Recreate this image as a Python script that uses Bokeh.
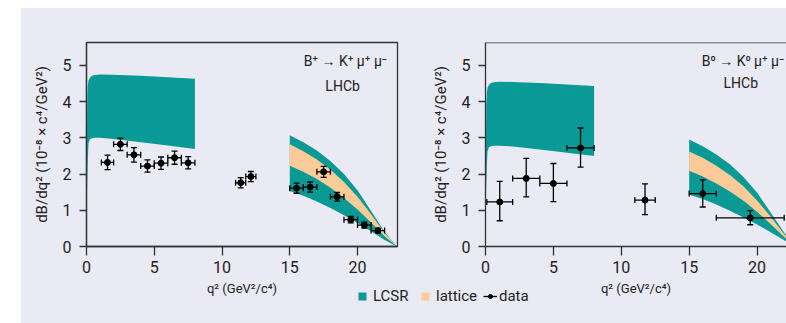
from bokeh.plotting import figure
from bokeh.models import (Range1d, FixedTicker, ColumnDataSource, Whisker, TeeHead,
                          Legend, LegendItem, Label, Span)
from bokeh.layouts import row, column
from bokeh.embed import file_html
from bokeh.resources import INLINE

FONT = "Roboto"
TEAL = "#0a9a95"
ORANGE = "#fccb98"
BG = "#eaeaf5"
AX = "#333333"
TXT = "#222222"

# ---------------- data ----------------
# theory band, low q^2 (LCSR)
low_q = [0.03, 0.06, 0.1, 0.15, 0.25, 0.4, 0.6, 1.0, 2.0, 4.0, 6.0, 8.0]
bp_low_up = [3.0, 4.1, 4.45, 4.58, 4.66, 4.71, 4.73, 4.75, 4.74, 4.71, 4.67, 4.63]
bp_low_lo = [1.3, 1.9, 2.45, 2.85, 2.96, 2.99, 3.0, 3.0, 2.97, 2.88, 2.79, 2.69]
b0_low_up = [2.6, 3.9, 4.25, 4.38, 4.46, 4.51, 4.53, 4.55, 4.54, 4.51, 4.47, 4.43]
b0_low_lo = [1.2, 1.75, 2.25, 2.62, 2.74, 2.77, 2.78, 2.78, 2.76, 2.68, 2.59, 2.50]

# theory bands, high q^2 (LCSR outer, lattice inner)
high_q = [15.0, 16.0, 17.0, 18.0, 19.0, 20.0, 21.0, 22.0, 22.9]
bp_lcsr_up = [3.07, 2.88, 2.65, 2.36, 2.00, 1.55, 0.98, 0.40, 0.0]
bp_lcsr_lo = [1.53, 1.40, 1.24, 1.06, 0.86, 0.65, 0.42, 0.18, 0.0]
bp_lat_up = [2.82, 2.63, 2.40, 2.12, 1.78, 1.37, 0.89, 0.37, 0.0]
bp_lat_lo = [2.23, 2.06, 1.86, 1.62, 1.34, 1.02, 0.66, 0.28, 0.0]
b0_lcsr_up = [2.95, 2.77, 2.54, 2.27, 1.92, 1.49, 0.94, 0.38, 0.0]
b0_lcsr_lo = [1.43, 1.31, 1.16, 0.99, 0.80, 0.61, 0.39, 0.17, 0.0]
b0_lat_up = [2.62, 2.45, 2.23, 1.97, 1.66, 1.27, 0.83, 0.34, 0.0]
b0_lat_lo = [2.09, 1.93, 1.74, 1.52, 1.26, 0.96, 0.62, 0.26, 0.0]

# B+ -> K+ mu+ mu- data
bp_q = [1.55, 2.5, 3.5, 4.5, 5.5, 6.5, 7.5, 11.38, 12.13, 15.5, 16.5, 17.5, 18.5, 19.5, 20.5, 21.5]
bp_qlo = [1.1, 2.0, 3.0, 4.0, 5.0, 6.0, 7.0, 11.0, 11.75, 15.0, 16.0, 17.0, 18.0, 19.0, 20.0, 21.0]
bp_qhi = [2.0, 3.0, 4.0, 5.0, 6.0, 7.0, 8.0, 11.75, 12.5, 16.0, 17.0, 18.0, 19.0, 20.0, 21.0, 22.0]
bp_val = [2.32, 2.82, 2.53, 2.22, 2.30, 2.45, 2.31, 1.76, 1.93, 1.61, 1.64, 2.06, 1.37, 0.74, 0.59, 0.44]
bp_err = [0.20, 0.17, 0.20, 0.17, 0.17, 0.18, 0.17, 0.14, 0.14, 0.14, 0.14, 0.15, 0.12, 0.09, 0.08, 0.06]

# B0 -> K0 mu+ mu- data
b0_q = [1.05, 3.0, 5.0, 7.0, 11.75, 16.0, 19.5]
b0_qlo = [0.1, 2.0, 4.0, 6.0, 11.0, 15.0, 17.0]
b0_qhi = [2.0, 4.0, 6.0, 8.0, 12.5, 17.0, 22.0]
b0_val = [1.23, 1.88, 1.74, 2.72, 1.28, 1.46, 0.79]
b0_up = [1.80, 2.43, 2.29, 3.27, 1.73, 1.84, 0.99]
b0_lo = [0.71, 1.37, 1.24, 2.19, 0.88, 1.09, 0.60]

x_ticks = [0, 5, 10, 15, 20]
y_ticks = [0, 1, 2, 3, 4, 5]
x_label = "q² (GeV²/c⁴)"
y_label = "dB/dq² (10⁻⁸ × c⁴/GeV²)"
bp_title = "B⁺ → K⁺ μ⁺ μ⁻"
b0_title = "B⁰ → K⁰ μ⁺ μ⁻"
legend_labels = ["LCSR", "lattice", "data"]

H = 315


def panel(width, bl, br, xmax, low_up, low_lo, lc_up, lc_lo, la_up, la_lo,
          q, qlo, qhi, val, lo, hi, title, tx, ty, talign, lx, ly, outline):
    p = figure(width=width, height=H, output_backend="svg", toolbar_location=None,
               x_range=Range1d(0, xmax), y_range=Range1d(0, 5.63),
               min_border_left=bl, min_border_right=br, min_border_top=34,
               min_border_bottom=H - 34 - 204)
    p.background_fill_color = BG
    p.border_fill_color = BG
    p.grid.visible = False
    if outline:
        p.outline_line_color = AX
        p.outline_line_width = 1.3
    else:
        p.outline_line_color = None
        p.add_layout(Span(location=5.63, dimension="width", line_color=AX, line_width=1.3))

    for ax, ticks, tout in ((p.xaxis[0], x_ticks, 9), (p.yaxis[0], y_ticks, 7)):
        ax.ticker = FixedTicker(ticks=ticks)
        ax.minor_tick_line_color = None
        ax.major_tick_in = 0
        ax.major_tick_out = tout
        ax.axis_line_color = AX
        ax.axis_line_width = 1.3
        ax.major_tick_line_color = AX
        ax.major_tick_line_width = 1.3
        ax.major_label_text_font = FONT
        ax.major_label_text_font_size = "16px"
        ax.major_label_text_color = TXT
        ax.axis_label_text_font = FONT
        ax.axis_label_text_font_style = "normal"
        ax.axis_label_text_color = TXT
    p.xaxis.axis_label = x_label
    p.yaxis.axis_label = y_label
    p.xaxis.axis_label_text_font_size = "13px"
    p.yaxis.axis_label_text_font_size = "15px"
    p.xaxis.major_label_standoff = 5
    p.yaxis.major_label_standoff = 8
    p.xaxis.axis_label_standoff = 5
    p.yaxis.axis_label_standoff = 9

    p.varea(x=low_q, y1=low_lo, y2=low_up, fill_color=TEAL)
    p.varea(x=high_q, y1=lc_lo, y2=lc_up, fill_color=TEAL)
    p.varea(x=high_q, y1=la_lo, y2=la_up, fill_color=ORANGE)

    src = ColumnDataSource(dict(q=q, qlo=qlo, qhi=qhi, val=val, lo=lo, hi=hi))
    for dim, base, l, u in (("height", "q", "lo", "hi"), ("width", "val", "qlo", "qhi")):
        p.add_layout(Whisker(source=src, base=base, lower=l, upper=u, dimension=dim,
                             line_color="black", line_width=1.3, level="overlay",
                             upper_head=TeeHead(size=6, line_color="black", line_width=1.3),
                             lower_head=TeeHead(size=6, line_color="black", line_width=1.3)))
    p.scatter(x="q", y="val", source=src, size=6, color="black")

    p.add_layout(Label(x=tx, y=ty, text=title, text_align=talign, text_baseline="middle",
                       text_font=FONT, text_font_size="14px", text_color=TXT))
    p.add_layout(Label(x=lx, y=ly, text="LHCb", text_align="center", text_baseline="middle",
                       text_font=FONT, text_font_size="14px", text_color=TXT))
    return p


# left canvas 21..411 (frame 86..397), right canvas 411..786 (frame 485..786)
p1 = panel(390, 65, 14, 22.95, bp_low_up, bp_low_lo, bp_lcsr_up, bp_lcsr_lo,
           bp_lat_up, bp_lat_lo, bp_q, bp_qlo, bp_qhi, bp_val,
           [v - e for v, e in zip(bp_val, bp_err)],
           [v + e for v, e in zip(bp_val, bp_err)],
           bp_title, 19.1, 5.12, "center", 18.9, 4.43, True)
p2 = panel(375, 74, 0, 22.17, b0_low_up, b0_low_lo, b0_lcsr_up, b0_lcsr_lo,
           b0_lat_up, b0_lat_lo, b0_q, b0_qlo, b0_qhi, b0_val, b0_lo, b0_up,
           b0_title, 22.0, 5.12, "right", 18.8, 4.5, False)

# legend strip, laid over the bottom of the two panels; its range keeps the
# sample glyphs (needed by the legend) out of view
lg = figure(width=190, height=24, output_backend="svg", toolbar_location=None,
            x_range=Range1d(-10, -9), y_range=Range1d(-10, -9),
            min_border=0, min_border_left=0, min_border_right=0,
            min_border_top=0, min_border_bottom=0)
lg.axis.visible = False
lg.grid.visible = False
lg.outline_line_color = None
lg.background_fill_alpha = 0
lg.border_fill_alpha = 0
r_lcsr = lg.varea(x=high_q, y1=bp_lcsr_lo, y2=bp_lcsr_up, fill_color=TEAL)
r_lat = lg.varea(x=high_q, y1=bp_lat_lo, y2=bp_lat_up, fill_color=ORANGE)
r_dl = lg.line(x=bp_q, y=bp_val, line_color="black", line_width=1.3)
r_dp = lg.scatter(x=bp_q, y=bp_val, size=6, color="black")


def leg(label, rends, loc, gw, standoff):
    return Legend(items=[LegendItem(label=label, renderers=rends)], location=loc,
                  orientation="horizontal", padding=0, margin=0, spacing=0,
                  border_line_color=None, background_fill_alpha=0,
                  glyph_width=gw, glyph_height=10, label_height=10, label_standoff=standoff,
                  label_text_font=FONT, label_text_font_size="15px",
                  label_text_color=TXT, label_text_baseline="middle")


lg.add_layout(leg(legend_labels[0], [r_lcsr], (0, 7), 10, 6), "center")
lg.add_layout(leg(legend_labels[1], [r_lat], (63, 7), 10, 6), "center")
lg.add_layout(leg(legend_labels[2], [r_dl, r_dp], (126, 7), 14, 2), "center")
lg.margin = (-35, 0, 0, 357)

panels = row(p1, p2, spacing=0, margin=(8, 0, 0, 21), styles={"background-color": BG})
layout = column(panels, lg, spacing=0)
open("out.html", "w").write(file_html(layout, INLINE))
